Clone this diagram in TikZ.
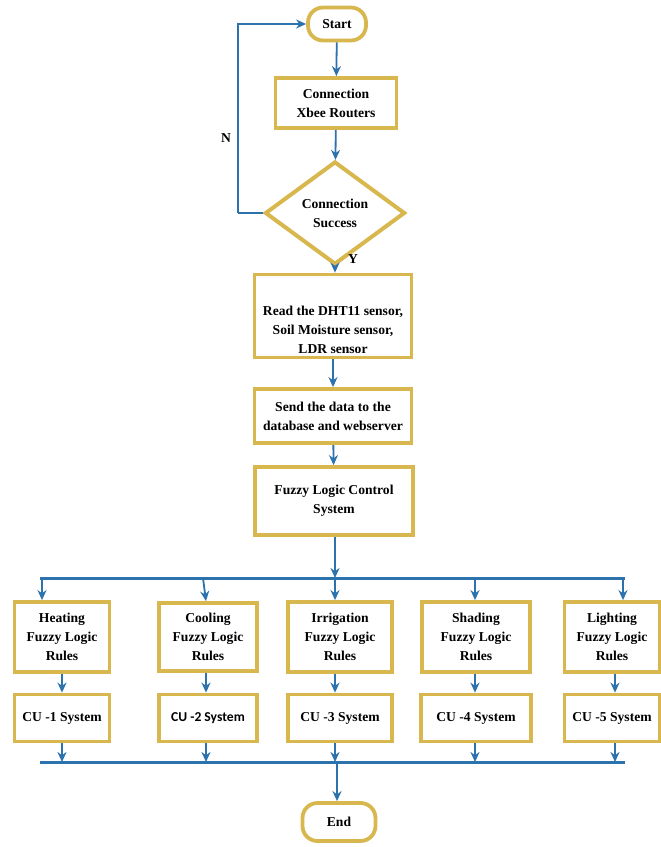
\documentclass[tikz,border=0pt]{standalone}
\usepackage{fontspec}
\setmainfont{Liberation Serif}
\newfontfamily\cufont{Carlito}
\usetikzlibrary{shapes.geometric,arrows.meta}
\definecolor{gold}{RGB}{216,184,78}
\definecolor{flow}{RGB}{44,114,172}
\tikzset{
  base/.style={draw=gold, line width=3.8pt, fill=white, align=center,
    font=\bfseries\fontsize{13.6}{19}\selectfont, inner sep=2pt},
  box/.style={base, rectangle},
  pill/.style={base, rounded corners=15pt},
  decision/.style={base, diamond, minimum width=140pt, minimum height=84pt, line width=4pt},
  arr/.style={draw=flow, line width=1.8pt, -{Stealth[length=10pt,width=9pt]}},
  bus/.style={draw=flow, line width=3pt},
  tag/.style={font=\bfseries\fontsize{13.6}{16}\selectfont}
}
\begin{document}
\begin{tikzpicture}[x=1pt,y=-1pt]
\useasboundingbox (0,0) rectangle (661,847);

% main column
\node[pill, minimum width=58pt, minimum height=33pt] (start) at (337,24) {Start};
\node[box, minimum width=121pt, minimum height=50pt] (conn) at (336,103) {Connection\\Xbee Routers};
\node[decision] (dec) at (335,213) {Connection\\Success};
\node[box, minimum width=157pt, minimum height=83pt,
  label={[font=\bfseries\fontsize{13.6}{19}\selectfont, align=center, yshift=-14pt]center:{Read the DHT11 sensor,\\Soil Moisture sensor,\\LDR sensor}}] (read) at (333,316) {};
\node[box, minimum width=157pt, minimum height=54pt] (send) at (333,416) {Send the data to the\\database and webserver};
\node[box, minimum width=158pt, minimum height=68pt] (flc) at (334,501) {Fuzzy Logic Control\\System};

% rule blocks
\node[box, minimum width=95pt, minimum height=70pt] (heat) at (62,637) {Heating\\Fuzzy Logic\\Rules};
\node[box, minimum width=98pt, minimum height=68pt] (cool) at (208,637) {Cooling\\Fuzzy Logic\\Rules};
\node[box, minimum width=104pt, minimum height=70pt] (irr) at (340,637) {Irrigation\\Fuzzy Logic\\Rules};
\node[box, minimum width=108pt, minimum height=70pt] (shade) at (476,637) {Shading\\Fuzzy Logic\\Rules};
\node[box, minimum width=95pt, minimum height=70pt] (light) at (612,637) {Lighting\\Fuzzy Logic\\Rules};

% control units
\node[box, minimum width=95pt, minimum height=47pt] (cu1) at (62,718) {CU -1 System};
\node[box, minimum width=98pt, minimum height=47pt, font=\cufont\bfseries\fontsize{13.6}{16}\selectfont] (cu2) at (208,718) {CU -2 System};
\node[box, minimum width=104pt, minimum height=47pt] (cu3) at (340,718) {CU -3 System};
\node[box, minimum width=110pt, minimum height=47pt] (cu4) at (476,718) {CU -4 System};
\node[box, minimum width=95pt, minimum height=47pt] (cu5) at (612,718) {CU -5 System};

\node[pill, minimum width=73pt, minimum height=38pt] (end) at (339,822) {End};

% bus coordinates
\coordinate (tl) at (40,578);
\coordinate (tr) at (625,578);
\coordinate (bl) at (40,762);
\coordinate (br) at (625,762);
\coordinate (loop) at (238,213);

% main flow
\draw[arr] (start) -- (conn);
\draw[arr] (conn) -- (dec);
\draw[draw=flow, line width=1.8pt] (dec.west) -- (loop);
\draw[arr] (loop) |- (start.west);
\draw[arr] (dec.south) -- (read.north -| dec.south);
\draw[arr] (read) -- (send);
\draw[arr] (send) -- (flc);
\draw[arr] (flc.south -| 335,0) -- (335,578);

% top distribution bus
\draw[bus] (tl) -- (tr);
\draw[arr] (42,578) -- (42,0 |- heat.north);
\draw[arr] (203,578) -- (206,0 |- cool.north);
\draw[arr] (335,578) -- (335,0 |- irr.north);
\draw[arr] (475,578) -- (475,0 |- shade.north);
\draw[arr] (623,578) -- (623,0 |- light.north);

% rules to control units
\draw[arr] (heat) -- (cu1);
\draw[arr] (206,0 |- cool.south) -- (206,0 |- cu2.north);
\draw[arr] (335,0 |- irr.south) -- (335,0 |- cu3.north);
\draw[arr] (475,0 |- shade.south) -- (475,0 |- cu4.north);
\draw[arr] (615,0 |- light.south) -- (615,0 |- cu5.north);

% control units to bottom bus
\draw[bus] (bl) -- (br);
\draw[arr] (62,0 |- cu1.south) -- (62,762);
\draw[arr] (206,0 |- cu2.south) -- (206,762);
\draw[arr] (335,0 |- cu3.south) -- (335,762);
\draw[arr] (475,0 |- cu4.south) -- (475,762);
\draw[arr] (615,0 |- cu5.south) -- (615,762);
\draw[arr] (337,762) -- (337,0 |- end.north);

% branch labels
\node[tag] (nlab) at (226,138) {N};
\node[tag] (ylab) at (353,259) {Y};
\end{tikzpicture}
\end{document}
